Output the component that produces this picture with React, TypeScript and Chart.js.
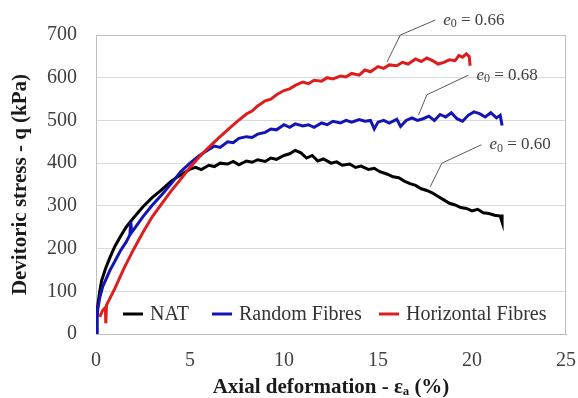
import React, { useEffect, useRef } from "react";
import { Chart, registerables } from "chart.js";

Chart.register(...registerables);

// ---- data ----
const xTickValues = [0, 5, 10, 15, 20, 25];
const yTickValues = [0, 100, 200, 300, 400, 500, 600, 700];

const seriesNames = ["NAT", "Random Fibres", "Horizontal Fibres"];
const seriesColors = ["#000000", "#1414b4", "#dc1e1e"];

const natStrain = [0, 0.05, 0.1, 0.2, 0.3, 0.5, 0.75, 1.0, 1.3, 1.6, 2.0, 2.5, 3.0, 3.5, 4.0, 4.5, 5.0, 5.3, 5.6, 6.0, 6.3, 6.6, 7.0, 7.3, 7.6, 8.0, 8.3, 8.6, 9.0, 9.3, 9.6, 10.0, 10.3, 10.6, 10.9, 11.2, 11.5, 11.8, 12.1, 12.5, 12.8, 13.1, 13.5, 13.8, 14.1, 14.5, 14.8, 15.1, 15.5, 15.8, 16.1, 16.4, 16.7, 17.0, 17.3, 17.6, 17.9, 18.2, 18.5, 18.8, 19.1, 19.4, 19.7, 20.0, 20.3, 20.6, 20.9, 21.2, 21.5, 21.6, 21.6];
const natStress = [0, 40, 70, 100, 125, 152, 180, 205, 228, 250, 272, 298, 320, 338, 358, 372, 386, 390, 385, 395, 392, 400, 398, 404, 396, 405, 402, 408, 404, 412, 409, 418, 422, 430, 424, 412, 418, 405, 410, 400, 403, 395, 398, 390, 393, 385, 388, 380, 374, 368, 366, 358, 352, 348, 340, 336, 330, 322, 314, 306, 302, 296, 294, 288, 292, 284, 282, 278, 276, 262, 280];

const randomStrain = [0, 0.05, 0.1, 0.2, 0.35, 0.5, 0.75, 1.0, 1.3, 1.6, 1.8, 1.85, 1.9, 2.1, 2.5, 3.0, 3.5, 4.0, 4.5, 5.0, 5.5, 6.0, 6.3, 6.6, 7.0, 7.3, 7.6, 8.0, 8.3, 8.6, 9.0, 9.3, 9.6, 10.0, 10.3, 10.6, 11.0, 11.3, 11.6, 12.0, 12.3, 12.6, 13.0, 13.3, 13.6, 14.0, 14.3, 14.6, 14.8, 15.0, 15.3, 15.6, 16.0, 16.2, 16.5, 16.8, 17.1, 17.4, 17.7, 18.0, 18.3, 18.6, 18.9, 19.2, 19.5, 19.8, 20.1, 20.4, 20.7, 21.0, 21.3, 21.5, 21.6];
const randomStress = [0, 35, 60, 85, 110, 125, 150, 170, 195, 215, 232, 262, 238, 250, 275, 302, 326, 352, 380, 400, 418, 432, 440, 437, 450, 448, 458, 462, 460, 468, 472, 480, 478, 490, 484, 492, 487, 490, 484, 494, 490, 498, 494, 500, 496, 502, 498, 500, 480, 496, 500, 494, 503, 486, 500, 506, 500, 504, 510, 500, 514, 508, 518, 504, 498, 512, 520, 516, 508, 518, 506, 512, 488];

const horizStrain = [0.2, 0.35, 0.5, 0.52, 0.56, 0.7, 1.0, 1.5, 2.0, 2.5, 3.0, 3.5, 4.0, 4.5, 5.0, 5.5, 6.0, 6.5, 7.0, 7.5, 8.0, 8.3, 8.6, 9.0, 9.3, 9.6, 10.0, 10.3, 10.6, 11.0, 11.3, 11.6, 12.0, 12.3, 12.6, 13.0, 13.3, 13.6, 14.0, 14.3, 14.6, 15.0, 15.3, 15.6, 16.0, 16.3, 16.6, 17.0, 17.3, 17.6, 17.9, 18.2, 18.5, 18.8, 19.1, 19.3, 19.5, 19.7, 19.85, 19.9];
const horizStress = [40, 55, 62, 25, 68, 80, 106, 155, 198, 238, 275, 305, 335, 362, 390, 415, 437, 458, 478, 497, 515, 522, 534, 546, 550, 560, 570, 574, 582, 590, 586, 594, 592, 600, 597, 604, 602, 610, 606, 618, 614, 626, 622, 630, 628, 636, 632, 644, 638, 646, 640, 632, 636, 642, 640, 652, 648, 656, 650, 628];

// annotation labels (e0 values) and their leader lines in data units
const annLabels = ["0.66", "0.68", "0.60"];
const annLeaderX = [[15.48, 16.19, 18.04], [17.16, 17.6, 19.81], [17.78, 18.4, 20.5]];
const annLeaderY = [[637, 700, 735], [513, 560, 606], [345, 400, 443]];

const SERIF = "'Liberation Serif', 'Times New Roman', serif";

function toPoints(xs: number[], ys: number[]) {
  return xs.map((x, i) => ({ x, y: ys[i] }));
}

const framePlugin = {
  id: "frame",
  beforeDatasetsDraw(chart: any) {
    const { ctx, chartArea } = chart;
    ctx.save();
    ctx.strokeStyle = "#bfbfbf";
    ctx.lineWidth = 1;
    ctx.strokeRect(chartArea.left + 0.5, chartArea.top + 0.5, chartArea.right - chartArea.left - 1, chartArea.bottom - chartArea.top);
    ctx.restore();
  },
};

const overlayPlugin = {
  id: "overlay",
  afterDraw(chart: any) {
    const { ctx, scales } = chart;
    const xs = scales.x;
    const ys = scales.y;
    ctx.save();
    // legend inside plot
    const legendY = 314;
    const starts = [123, 212, 379];
    ctx.font = `20px ${SERIF}`;
    ctx.textBaseline = "middle";
    ctx.textAlign = "left";
    seriesNames.forEach((name, i) => {
      ctx.strokeStyle = seriesColors[i];
      ctx.lineWidth = 3;
      ctx.beginPath();
      ctx.moveTo(starts[i], legendY);
      ctx.lineTo(starts[i] + 20, legendY);
      ctx.stroke();
      ctx.fillStyle = "#333333";
      ctx.fillText(name, starts[i] + 27, legendY + 1);
    });
    // annotations
    annLabels.forEach((lab, i) => {
      const px = annLeaderX[i].map((v) => xs.getPixelForValue(v));
      const py = annLeaderY[i].map((v) => ys.getPixelForValue(v));
      ctx.strokeStyle = "#595959";
      ctx.lineWidth = 1;
      ctx.beginPath();
      ctx.moveTo(px[0], py[0]);
      ctx.lineTo(px[1], py[1]);
      ctx.lineTo(px[2], py[2]);
      ctx.stroke();
      let tx = px[2] + 8;
      const ty = py[2];
      ctx.fillStyle = "#404040";
      ctx.textBaseline = "middle";
      ctx.font = `italic 17px ${SERIF}`;
      ctx.fillText("e", tx, ty);
      tx += ctx.measureText("e").width;
      ctx.font = `12px ${SERIF}`;
      ctx.fillText("0", tx, ty + 4);
      tx += ctx.measureText("0").width;
      ctx.font = `17px ${SERIF}`;
      ctx.fillText(" = " + lab, tx, ty);
    });
    ctx.restore();
  },
};

export default function App() {
  const canvasRef = useRef<HTMLCanvasElement | null>(null);

  useEffect(() => {
    if (!canvasRef.current) return;
    const datasets = [
      toPoints(natStrain, natStress),
      toPoints(randomStrain, randomStress),
      toPoints(horizStrain, horizStress),
    ].map((data, i) => ({
      label: seriesNames[i],
      data,
      borderColor: seriesColors[i],
      backgroundColor: seriesColors[i],
      borderWidth: 3,
      pointRadius: 0,
      tension: 0,
      showLine: true,
      fill: false,
    }));
    const chart = new Chart(canvasRef.current, {
      type: "scatter",
      data: { datasets: [datasets[2], datasets[1], datasets[0]] },
      options: {
        animation: false,
        responsive: true,
        maintainAspectRatio: false,
        layout: { padding: { top: 35, right: 12, left: 0, bottom: 0 } },
        plugins: { legend: { display: false }, tooltip: { enabled: false } },
        scales: {
          x: {
            type: "linear",
            min: 0,
            max: 25,
            afterBuildTicks: (s: any) => { s.ticks = xTickValues.map((v) => ({ value: v })); },
            afterFit: (s: any) => { s.height = 64; s.paddingLeft = 0; s.paddingRight = 0; },
            grid: { display: false, drawTicks: false },
            border: { display: true, color: "#bfbfbf" },
            ticks: { padding: 15, color: "#404040", font: { family: SERIF, size: 20 } },
            title: {
              display: true,
              text: "Axial deformation - εₐ (%)",
              color: "#1a1a1a",
              font: { family: SERIF, size: 21, weight: "bold", lineHeight: 1 },
              padding: { top: 0, bottom: 0 },
            },
          },
          y: {
            type: "linear",
            min: 0,
            max: 700,
            afterBuildTicks: (s: any) => { s.ticks = yTickValues.map((v) => ({ value: v })); },
            afterFit: (s: any) => { s.width = 96; s.paddingTop = 0; s.paddingBottom = 0; },
            grid: { color: "#d9d9d9", drawTicks: false },
            border: { display: true, color: "#bfbfbf" },
            ticks: { padding: 19, color: "#404040", font: { family: SERIF, size: 20 } },
            title: {
              display: true,
              text: "Devitoric stress - q (kPa)",
              color: "#1a1a1a",
              font: { family: SERIF, size: 21, weight: "bold", lineHeight: 1 },
              padding: { top: 10, bottom: 0 },
            },
          },
        },
      },
      plugins: [framePlugin, overlayPlugin],
    });
    return () => chart.destroy();
  }, []);

  return (
    <div style={{ position: "absolute", left: 0, top: 0, width: 578, height: 398, background: "#fff" }}>
      <canvas ref={canvasRef} />
    </div>
  );
}
